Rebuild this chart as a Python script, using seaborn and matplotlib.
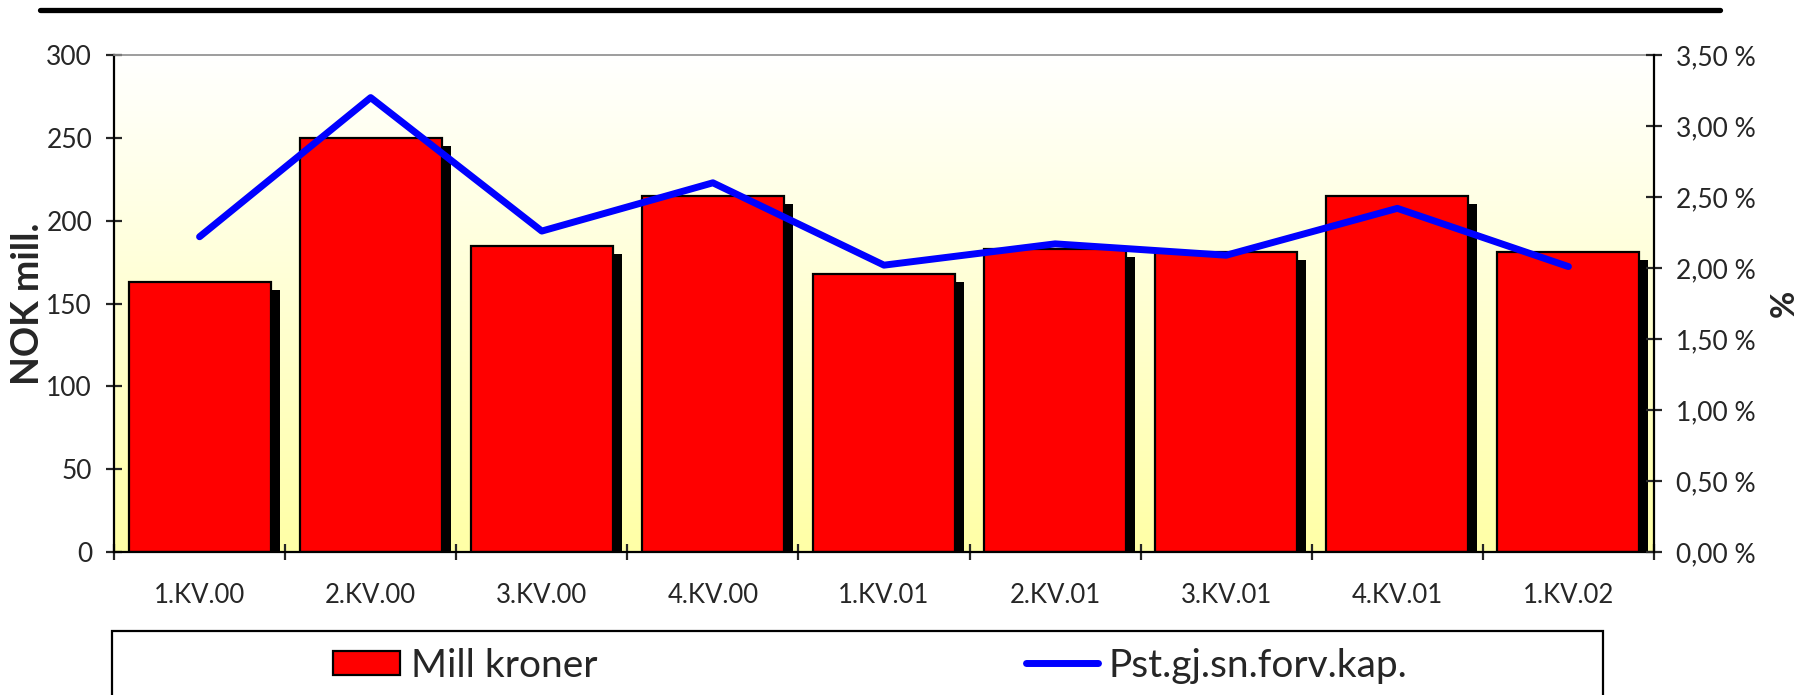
import numpy as np
import pandas as pd
import matplotlib
matplotlib.use("Agg")
import matplotlib.pyplot as plt
import matplotlib.patheffects as pe
from matplotlib.colors import LinearSegmentedColormap
from matplotlib.lines import Line2D
from matplotlib.patches import Patch, Rectangle
from matplotlib.ticker import FuncFormatter, MultipleLocator
import seaborn as sns

# data
quarters = ["1.KV.00", "2.KV.00", "3.KV.00", "4.KV.00", "1.KV.01",
            "2.KV.01", "3.KV.01", "4.KV.01", "1.KV.02"]
mill_kroner = [163, 250, 185, 215, 168, 183, 181, 215, 181]
pst_kap = [2.22, 3.20, 2.26, 2.60, 2.02, 2.17, 2.09, 2.42, 2.01]

bar_label = "Mill kroner"
line_label = "Pst.gj.sn.forv.kap."

sns.set_style("ticks")
plt.rcParams["font.family"] = ["Lato", "DejaVu Sans"]

W, H = 1803, 695
fig = plt.figure(figsize=(W / 100, H / 100), dpi=100)
# axes box in pixels: left 114, right 1654, top 55, bottom 552
ax = fig.add_axes([114 / W, 1 - 552 / H, (1654 - 114) / W, (552 - 55) / H])

# gradient background (white -> pale yellow)
cmap = LinearSegmentedColormap.from_list("bg", ["#FFFFFF", "#FFFFA6"])
grad = np.linspace(0, 1, 256).reshape(-1, 1)
ax.imshow(grad, cmap=cmap, aspect="auto", extent=[0, 1, 0, 1],
          transform=ax.transAxes, zorder=0, origin="upper")

df = pd.DataFrame({"kvartal": quarters, "mill": mill_kroner, "pst": pst_kap})

sns.barplot(data=df, x="kvartal", y="mill", color="#FF0000", saturation=1,
            edgecolor="black", linewidth=1.6, width=0.83, ax=ax, zorder=2)
for bar in ax.patches:
    if isinstance(bar, Rectangle):
        bar.set_path_effects([
            pe.SimplePatchShadow(offset=(6.5, -6), shadow_rgbFace="black", alpha=1),
            pe.Normal(),
        ])

ax.set_xlim(-0.5, len(quarters) - 0.5)
ax.set_ylim(0, 300)
ax.yaxis.set_major_locator(MultipleLocator(50))
ax.set_xlabel("")
ax.set_ylabel("NOK mill.", fontsize=27, fontweight="bold")
ax.yaxis.set_label_coords((45 - 114) / (1654 - 114), 0.5)

# x ticks sit between the categories
ax.set_xticks(np.arange(-0.5, len(quarters), 1), minor=True)
ax.tick_params(axis="x", which="major", length=0, pad=22, labelsize=18.5)
ax.tick_params(axis="x", which="minor", direction="inout", length=11.5, width=1.6)
ax.tick_params(axis="y", direction="inout", length=11.5, width=1.6, pad=10,
               labelsize=19)

for side in ["left", "bottom"]:
    ax.spines[side].set_color("black")
    ax.spines[side].set_linewidth(1.6)
ax.spines["top"].set_color("#8C8C8C")
ax.spines["top"].set_linewidth(1.2)
ax.spines["right"].set_visible(False)

# secondary axis with the percentage line
ax2 = ax.twinx()
ax2.set_zorder(ax.get_zorder() + 1)
ax2.patch.set_visible(False)
sns.lineplot(data=df, x="kvartal", y="pst", color="#0000FF", linewidth=5,
             sort=False, ax=ax2, solid_capstyle="round")
ax2.set_xlim(-0.5, len(quarters) - 0.5)
ax2.set_ylim(0, 3.5)
ax2.yaxis.set_major_locator(MultipleLocator(0.5))
ax2.yaxis.set_major_formatter(FuncFormatter(lambda v, p: f"{v:.2f} %".replace(".", ",")))
ax2.tick_params(axis="y", direction="inout", length=11.5, width=1.6, pad=10,
                labelsize=19)
ax2.set_ylabel("%", fontsize=24, fontweight="bold")
ax2.yaxis.set_label_coords((1770 - 114) / (1654 - 114), 0.5)
for side in ["left", "top", "bottom"]:
    ax2.spines[side].set_visible(False)
ax2.spines["right"].set_color("black")
ax2.spines["right"].set_linewidth(1.6)

# thick rule at the top
fig.add_artist(Line2D([40 / W, 1720 / W], [1 - 10 / H] * 2, color="black",
                      lw=3.8, transform=fig.transFigure))

# legend box below the plot (runs off the bottom edge)
fig.add_artist(Rectangle((112 / W, -0.05), (1603 - 112) / W, (H - 631) / H + 0.05,
                         transform=fig.transFigure, fill=False,
                         edgecolor="black", lw=1.6))

bar_handle = Patch(facecolor="#FF0000", edgecolor="black", linewidth=1.6)
line_handle = Line2D([], [], color="#0000FF", lw=5)
leg_y = 1 - 666 / H
fig.legend(handles=[bar_handle], labels=[bar_label], loc="center left",
           bbox_to_anchor=(333 / W, leg_y), frameon=False, fontsize=28,
           borderpad=0, borderaxespad=0, handlelength=1.72, handleheight=0.58,
           handletextpad=0.28)
fig.legend(handles=[line_handle], labels=[line_label], loc="center left",
           bbox_to_anchor=(1026 / W, leg_y), frameon=False, fontsize=28,
           borderpad=0, borderaxespad=0, handlelength=1.86, handletextpad=0.25)

fig.savefig("out.png", dpi=100)
